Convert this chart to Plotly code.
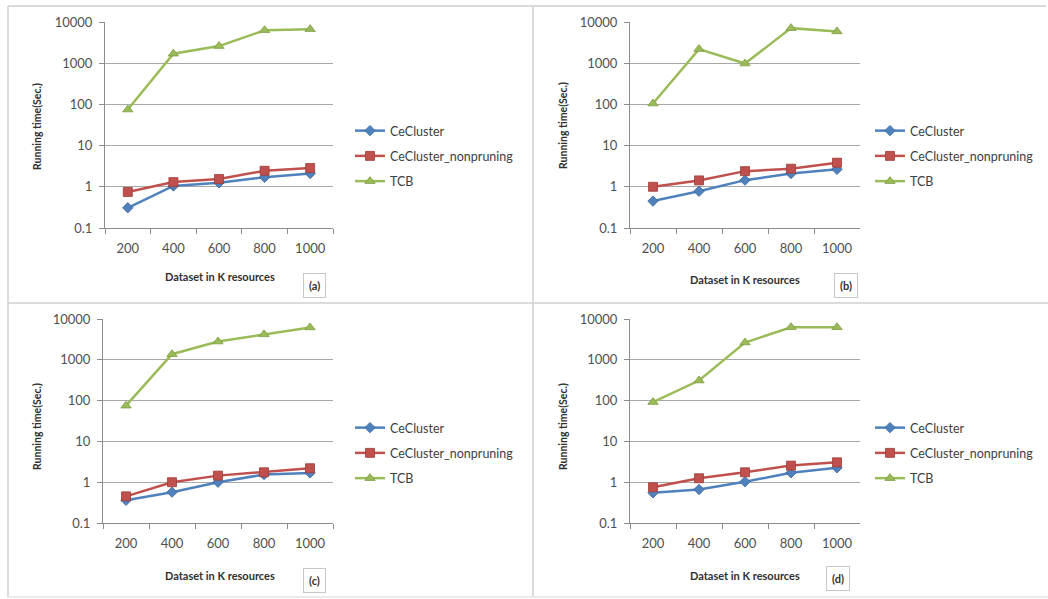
import plotly.graph_objects as go

categories = ["200", "400", "600", "800", "1000"]
series_names = ["CeCluster", "CeCluster_nonpruning", "TCB"]

a_ce = [0.31, 1.05, 1.25, 1.7, 2.1]
a_np = [0.75, 1.3, 1.55, 2.45, 2.85]
a_tcb = [75, 1700, 2600, 6300, 6700]

b_ce = [0.45, 0.78, 1.45, 2.1, 2.65]
b_np = [1.0, 1.43, 2.4, 2.75, 3.85]
b_tcb = [105, 2200, 980, 7100, 5900]

c_ce = [0.36, 0.57, 1.0, 1.54, 1.69]
c_np = [0.45, 1.0, 1.45, 1.75, 2.2]
c_tcb = [75, 1370, 2800, 4200, 6200]

d_ce = [0.55, 0.66, 1.03, 1.7, 2.25]
d_np = [0.75, 1.25, 1.75, 2.55, 3.07]
d_tcb = [92, 310, 2650, 6300, 6300]

panel_labels = ["(a)", "(b)", "(c)", "(d)"]
y_tickvals = [0.1, 1, 10, 100, 1000, 10000]
y_ticktext = ["0.1", "1", "10", "100", "1000", "10000"]

W, H = 1048, 599
FONT = "Lato"

colors = ["#4F81BD", "#C0504D", "#9BBB59"]
edge = ["#3B649A", "#9E3C39", "#7E9C43"]
symbols = ["diamond", "square", "triangle-up"]
msizes = [8, 9, 9]

# panel geometry in pixels: (x0, x1, ytop, ybottom)
panels = [
    (105, 333, 22, 228),
    (630, 860, 22, 228),
    (103, 333, 319, 523),
    (630, 860, 319, 523),
]
legend_pos = [(350, 116), (870, 116), (350, 413), (870, 413)]
xtitle_pos = [(220, 277), (745, 279), (220, 575), (745, 575)]
ytitle_pos = [(37, 127), (563, 126), (37, 427), (563, 427)]
box_pos = [(314, 285), (846, 285), (314, 580), (838, 578)]

data = [
    (a_ce, a_np, a_tcb),
    (b_ce, b_np, b_tcb),
    (c_ce, c_np, c_tcb),
    (d_ce, d_np, d_tcb),
]


def px(x):
    return x / W


def py(y):
    return 1 - y / H


fig = go.Figure()
layout = dict(
    width=W, height=H,
    margin=dict(l=0, r=0, t=0, b=0, pad=0, autoexpand=False),
    paper_bgcolor="white", plot_bgcolor="white",
    font=dict(family=FONT, color="#404040"),
    showlegend=True,
)
annotations = []

for i, (series, geom) in enumerate(zip(data, panels)):
    n = "" if i == 0 else str(i + 1)
    lg = "legend" if i == 0 else "legend" + str(i + 1)
    x0, x1, yt, yb = geom
    for j, vals in enumerate(series):
        fig.add_trace(go.Scatter(
            x=categories, y=vals, name=series_names[j],
            mode="lines+markers",
            xaxis="x" + n, yaxis="y" + n,
            legend=lg, legendgroup=f"{i}_{j}",
            line=dict(color=colors[j], width=2.5),
            marker=dict(symbol=symbols[j], size=msizes[j], color=colors[j],
                        line=dict(color=edge[j], width=0.8)),
        ))
    layout["xaxis" + n] = dict(
        domain=[px(x0), px(x1)], anchor="y" + n,
        type="category", range=[-0.5, 4.5],
        showgrid=False, showline=True, linecolor="#8c8c8c", linewidth=1,
        ticks="outside", ticklen=5, tickcolor="#8c8c8c", tickson="boundaries",
        tickfont=dict(family=FONT, size=13, color="#505050"),
        ticklabelstandoff=8, fixedrange=True, automargin=False,
    )
    layout["yaxis" + n] = dict(
        domain=[py(yb), py(yt)], anchor="x" + n,
        type="log", range=[-1, 4],
        tickvals=y_tickvals, ticktext=y_ticktext,
        showgrid=True, gridcolor="#a8a8a8", gridwidth=1,
        showline=True, linecolor="#8c8c8c", linewidth=1,
        ticks="outside", ticklen=5, tickcolor="#8c8c8c",
        tickfont=dict(family=FONT, size=13, color="#505050"),
        ticklabelstandoff=4, zeroline=False, fixedrange=True, automargin=False,
    )
    lx, ly = legend_pos[i]
    layout[lg] = dict(
        x=px(lx), y=py(ly), xanchor="left", yanchor="top",
        bgcolor="rgba(0,0,0,0)", borderwidth=0,
        font=dict(family=FONT, size=12.5, color="#404040"),
        tracegroupgap=6, itemwidth=30,
    )
    tx, ty = xtitle_pos[i]
    annotations.append(dict(
        x=px(tx), y=py(ty), xref="paper", yref="paper",
        text="<b>Dataset in K resources</b>", showarrow=False,
        font=dict(family=FONT, size=11, color="#303030"),
        xanchor="center", yanchor="middle",
    ))
    tx, ty = ytitle_pos[i]
    annotations.append(dict(
        x=px(tx), y=py(ty), xref="paper", yref="paper",
        text="<b>Running time(Sec.)</b>", showarrow=False, textangle=-90,
        font=dict(family=FONT, size=10.5, color="#303030"),
        xanchor="center", yanchor="middle",
    ))
    bx, by = box_pos[i]
    annotations.append(dict(
        x=px(bx), y=py(by), xref="paper", yref="paper",
        text="<b>" + panel_labels[i] + "</b>", showarrow=False,
        font=dict(family=FONT, size=11, color="#303030"),
        bordercolor="#c8c8c8", borderwidth=1, borderpad=5,
        bgcolor="white", xanchor="center", yanchor="middle",
    ))

line_col = "#cfcfcf"
shapes = [
    dict(type="line", xref="paper", yref="paper", x0=px(8), x1=px(8), y0=py(6), y1=py(597),
         line=dict(color=line_col, width=1.5)),
    dict(type="line", xref="paper", yref="paper", x0=px(8), x1=px(1046), y0=py(6), y1=py(6),
         line=dict(color=line_col, width=1.5)),
    dict(type="line", xref="paper", yref="paper", x0=px(533), x1=px(533), y0=py(6), y1=py(597),
         line=dict(color=line_col, width=1.5)),
    dict(type="line", xref="paper", yref="paper", x0=px(8), x1=px(1048), y0=py(303), y1=py(303),
         line=dict(color=line_col, width=1.5)),
    dict(type="line", xref="paper", yref="paper", x0=px(8), x1=px(1048), y0=py(597), y1=py(597),
         line=dict(color="#e4e4e4", width=1.5)),
]
layout["annotations"] = annotations
layout["shapes"] = shapes
fig.update_layout(**layout)

fig.write_html(
    "out.html",
    config={"displayModeBar": False},
    post_script=(
        "document.documentElement.style.margin='0';"
        "document.documentElement.style.overflow='hidden';"
        "document.body.style.margin='0';document.body.style.padding='0';"
        "document.body.style.overflow='hidden';"
        "var gd=document.getElementById('{plot_id}');"
        "gd.style.position='fixed';gd.style.top='0px';gd.style.left='0px';"
    ),
)
